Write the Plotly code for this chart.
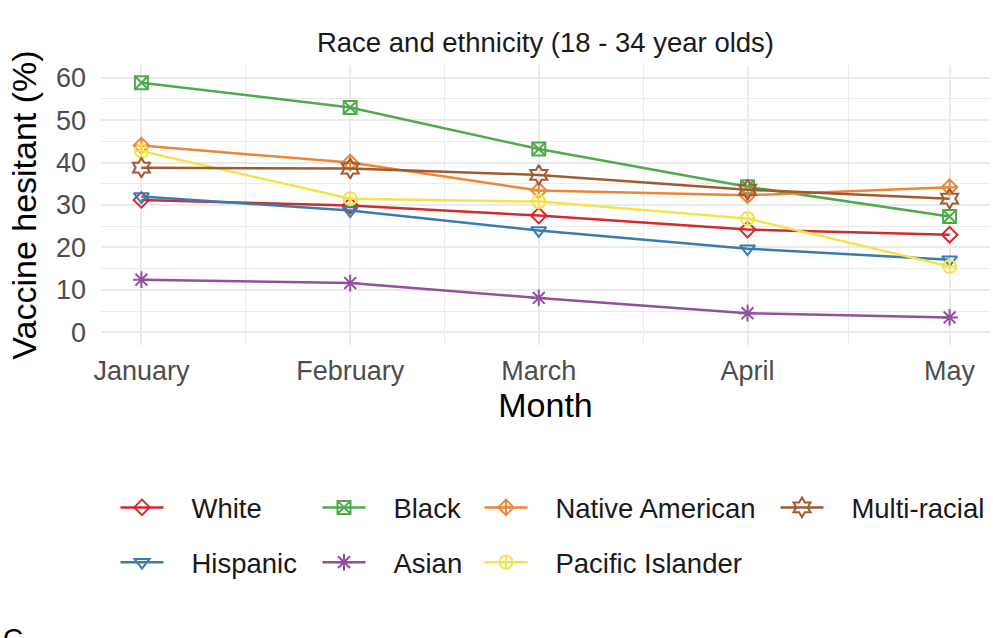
import plotly.graph_objects as go

months = ["2021-01-01", "2021-02-01", "2021-03-01", "2021-04-01", "2021-05-01"]
month_labels = ["January", "February", "March", "April", "May"]

groups = ["White", "Hispanic", "Black", "Asian", "Native American", "Pacific Islander", "Multi-racial"]
white = [31.2, 29.9, 27.5, 24.2, 23.0]
hispanic = [32.0, 28.7, 24.0, 19.7, 17.1]
black = [58.8, 53.0, 43.2, 34.3, 27.3]
asian = [12.4, 11.6, 8.1, 4.5, 3.5]
native_american = [44.0, 40.0, 33.4, 32.3, 34.2]
pacific_islander = [42.7, 31.5, 30.8, 26.8, 15.5]
multi_racial = [38.8, 38.6, 37.1, 33.6, 31.5]

values = [white, hispanic, black, asian, native_american, pacific_islander, multi_racial]
colors = ["#d32a2e", "#3a7bb0", "#4fab4a", "#944fa1", "#ec8738", "#f3e44c", "#a2592f"]
symbols = ["diamond-open", "triangle-down-open", "square-x-open", "asterisk-open",
           "diamond-cross-open", "circle-cross-open", "hexagram-open"]
sizes = [12, 13, 13, 14, 12, 13, 15]
legend_of = ["legend", "legend", "legend2", "legend2", "legend3", "legend3", "legend4"]

minor_vals = ["2021-01-16 12:00", "2021-02-15", "2021-03-16 12:00", "2021-04-16"]

NB = "\u00a0\u00a0\u00a0"

fig = go.Figure()
for i, g in enumerate(groups):
    fig.add_trace(go.Scatter(
        x=months, y=values[i], name=NB + g, mode="lines+markers",
        line=dict(color=colors[i], width=2.5),
        marker=dict(symbol=symbols[i], size=sizes[i], color=colors[i],
                    line=dict(color=colors[i], width=2)),
        legend=legend_of[i], legendgroup=g,
    ))

plot_l, plot_r, plot_t, plot_b = 101, 990, 65, 345
W, H = 993, 638
pw, ph = plot_r - plot_l, plot_b - plot_t


def px(x):
    return (x - plot_l) / pw


def py(y):
    return (plot_b - y) / ph


font_family = "Liberation Sans, Arial, sans-serif"
leg_common = dict(orientation="v", xanchor="left", yanchor="top",
                  font=dict(size=27.5, color="#1a1a1a", family=font_family),
                  bgcolor="rgba(0,0,0,0)", borderwidth=0, tracegroupgap=16,
                  itemwidth=43)
leg_top = py(483)

fig.update_layout(
    width=W, height=H,
    margin=dict(l=plot_l, r=W - plot_r, t=plot_t, b=H - plot_b),
    paper_bgcolor="white", plot_bgcolor="white",
    font=dict(family=font_family, color="#1a1a1a"),
    title=dict(text="Race and ethnicity (18 - 34 year olds)", x=0.5, xref="paper",
               xanchor="center", y=1 - 42 / H, yanchor="middle",
               font=dict(size=27.5, color="#1a1a1a")),
    xaxis=dict(
        type="date", range=["2020-12-26", "2021-05-07"],
        tickvals=months, ticktext=month_labels,
        tickfont=dict(size=27, color="#4d4d4d"),
        showgrid=True, gridcolor="#ebebeb", gridwidth=1.8,
        minor=dict(tickvals=minor_vals, showgrid=True, gridcolor="#ebebeb", gridwidth=1),
        zeroline=False, showline=False, ticks="",
        ticklabelstandoff=7,
        title=dict(text="Month", font=dict(size=34, color="#000000"), standoff=7),
    ),
    yaxis=dict(
        range=[-3, 63], tickvals=[0, 10, 20, 30, 40, 50, 60],
        tickfont=dict(size=27, color="#4d4d4d"),
        showgrid=True, gridcolor="#ebebeb", gridwidth=1.8,
        minor=dict(tickvals=[5, 15, 25, 35, 45, 55], showgrid=True, gridcolor="#ebebeb", gridwidth=1),
        zeroline=False, showline=False, ticks="",
        ticklabelstandoff=14,
        title=dict(text="Vaccine hesitant (%)", font=dict(size=34, color="#000000"), standoff=9),
    ),
    legend=dict(x=px(115.5), y=leg_top, **leg_common),
    legend2=dict(x=px(317.5), y=leg_top, **leg_common),
    legend3=dict(x=px(479.5), y=leg_top, **leg_common),
    legend4=dict(x=px(775.5), y=leg_top, **leg_common),
    showlegend=True,
)

fig.add_annotation(text="C", xref="paper", yref="paper", x=px(1), y=py(621),
                   xanchor="left", yanchor="top", showarrow=False,
                   font=dict(size=28, color="#000000", family=font_family))

fig.write_html("out.html", config={"displayModeBar": False},
               post_script="document.body.style.margin='0px';")
